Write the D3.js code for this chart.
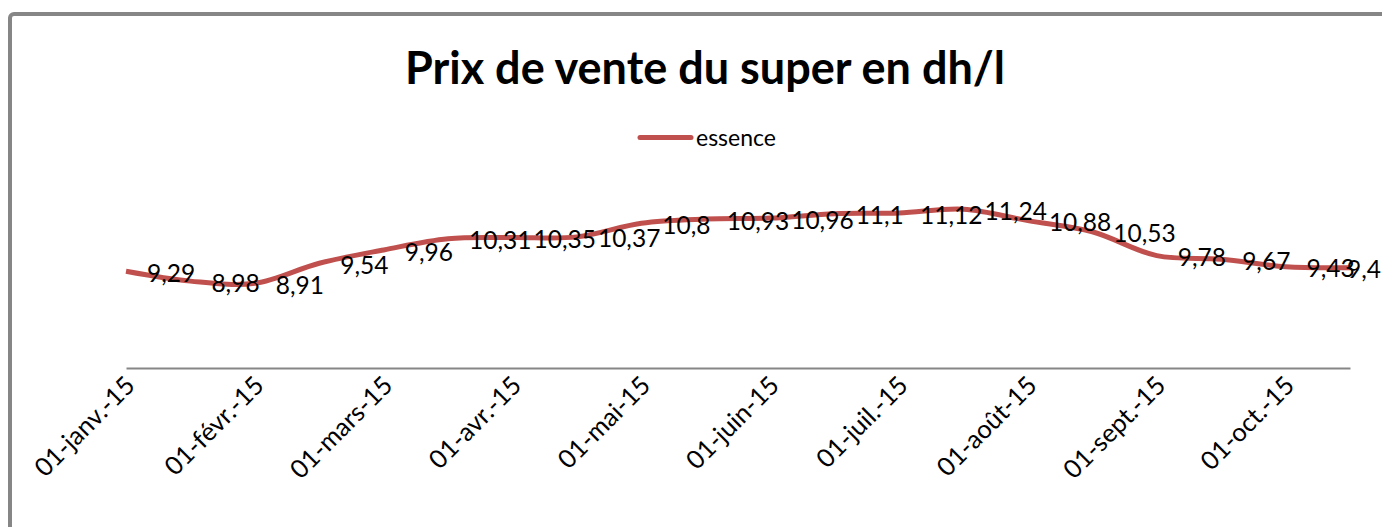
<!DOCTYPE html>
<html lang="fr">
<head>
<meta charset="UTF-8">
<title>Prix de vente du super</title>
<script src="https://d3js.org/d3.v7.min.js"></script>
<style>
    body { margin: 0; background: #fff; }
    text { font-family: Lato, "Open Sans", sans-serif; fill: #000; }
</style>
</head>
<body>
<svg width="1382" height="527" id="chart"></svg>
<script>
    // semi-monthly dates, 2015
    var categories = [
        "01-janv.-15", "16-janv.-15", "01-févr.-15", "16-févr.-15",
        "01-mars-15", "16-mars-15", "01-avr.-15", "16-avr.-15",
        "01-mai-15", "16-mai-15", "01-juin-15", "16-juin-15",
        "01-juil.-15", "16-juil.-15", "01-août-15", "16-août-15",
        "01-sept.-15", "16-sept.-15", "01-oct.-15", "16-oct.-15"
    ];
    var essence = [9.29, 8.98, 8.91, 9.54, 9.96, 10.31, 10.35, 10.37, 10.8, 10.93,
        10.96, 11.1, 11.12, 11.24, 10.88, 10.53, 9.78, 9.67, 9.43, 9.4];
    var tickLabels = categories.filter(function (d, i) { return i % 2 === 0; });
    var seriesName = "essence";
    var title = "Prix de vente du super en dh/l";

    var svg = d3.select("#chart");
    var red = "#c0504d";

    // chart frame (runs past the right and bottom edges)
    svg.append("rect")
        .attr("x", 10).attr("y", 14)
        .attr("width", 1420).attr("height", 560)
        .attr("rx", 4)
        .attr("fill", "#fff")
        .attr("stroke", "#868686")
        .attr("stroke-width", 4);

    svg.append("text")
        .attr("x", 705).attr("y", 84)
        .attr("text-anchor", "middle")
        .attr("font-size", "45px")
        .attr("font-weight", "bold")
        .text(title);

    // legend
    svg.append("line")
        .attr("x1", 640).attr("x2", 691)
        .attr("y1", 137.5).attr("y2", 137.5)
        .attr("stroke", red).attr("stroke-width", 5)
        .attr("stroke-linecap", "round");
    svg.append("text")
        .attr("x", 696).attr("y", 137.5)
        .attr("dy", "0.35em")
        .attr("font-size", "23px")
        .text(seriesName);

    var x = d3.scalePoint().domain(categories).range([126, 1350]);
    var y = d3.scaleLinear().domain([6.25, 12]).range([368, 185]);

    var xAxis = svg.append("g")
        .attr("transform", "translate(0,368)")
        .call(d3.axisBottom(x).tickValues(tickLabels).tickSize(0).tickSizeOuter(0));
    xAxis.select(".domain").attr("stroke", "#868686").attr("stroke-width", 2);
    xAxis.selectAll(".tick text")
        .attr("font-size", "25.5px")
        .attr("font-family", "Lato, 'Open Sans', sans-serif")
        .attr("fill", "#000")
        .attr("text-anchor", "end")
        .attr("x", 0).attr("y", 0).attr("dy", 0)
        .attr("transform", "translate(10,19) rotate(-45)");

    var line = d3.line()
        .x(function (d, i) { return x(categories[i]); })
        .y(function (d) { return y(d); })
        .curve(d3.curveCatmullRom);

    svg.append("path")
        .datum(essence)
        .attr("fill", "none")
        .attr("stroke", red)
        .attr("stroke-width", 5)
        .attr("stroke-linejoin", "round")
        .attr("d", line);

    // data labels to the right of each point, kept inside the picture
    svg.selectAll(".lbl")
        .data(essence)
        .enter().append("text")
        .attr("class", "lbl")
        .attr("y", function (d) { return y(d) + 2; })
        .attr("dy", "0.35em")
        .attr("font-size", "24.5px")
        .text(function (d) { return String(d).replace(".", ","); })
        .attr("x", function (d, i) {
            var w = this.getComputedTextLength();
            return Math.min(x(categories[i]) + 21, 1381 - w);
        });
</script>
</body>
</html>
